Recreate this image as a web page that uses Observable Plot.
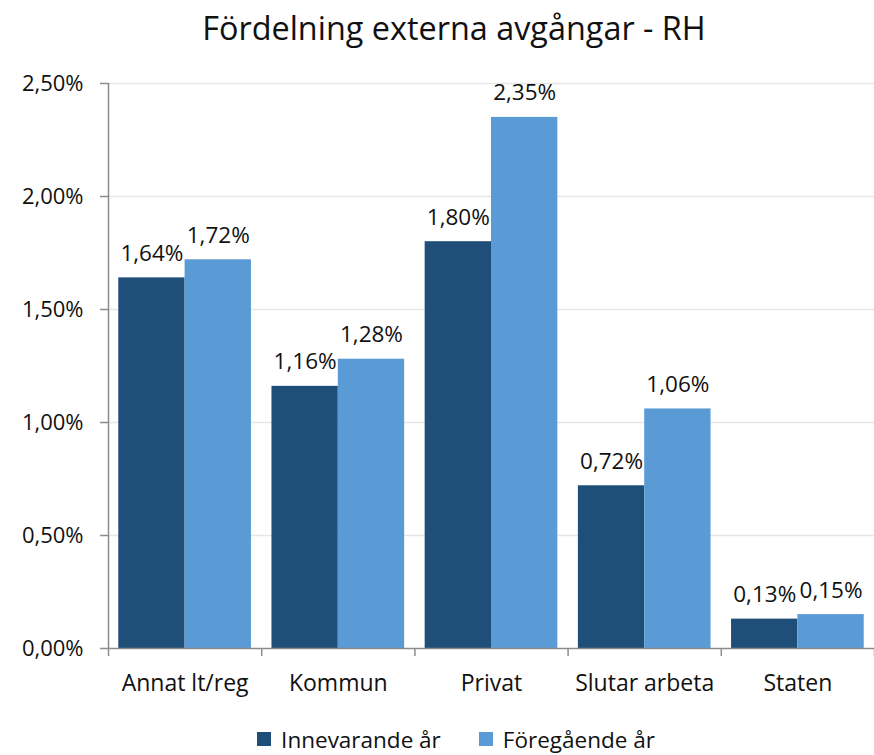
<!DOCTYPE html>
<html>
<head>
<meta charset="utf-8">
<script src="https://cdn.jsdelivr.net/npm/d3@7"></script>
<script src="https://cdn.jsdelivr.net/npm/@observablehq/plot@0.6"></script>
<style>
  html, body { margin: 0; padding: 0; background: #fff; }
  body { width: 874px; height: 755px; overflow: hidden; font-family: "Open Sans", Lato, sans-serif; color: #111; }
  #title { height: 62px; text-align: center; font-size: 32.4px; line-height: 54px; padding-left: 34px; }
  #legend { display: flex; justify-content: center; align-items: center; gap: 38px; font-size: 22.5px; height: 48px; padding-left: 38px; }
  .item { display: flex; align-items: center; gap: 10px; }
  .sw { width: 14px; height: 14px; display: inline-block; }
</style>
</head>
<body>
<div id="title">Fördelning externa avgångar - RH</div>
<div id="chart"></div>
<div id="legend"></div>
<script>
const categories = ["Annat lt/reg", "Kommun", "Privat", "Slutar arbeta", "Staten"];
const seriesNames = ["Innevarande år", "Föregående år"];
const innevarande = [1.64, 1.16, 1.80, 0.72, 0.13];
const foregaende = [1.72, 1.28, 2.35, 1.06, 0.15];
const yTicks = [0, 0.5, 1.0, 1.5, 2.0, 2.5];
const colors = ["#1F4E79", "#5B9BD5"];

const pad = 0.067, bw = 0.433;
const rows = [];
[innevarande, foregaende].forEach((vals, j) => {
  vals.forEach((v, i) => {
    rows.push({cat: categories[i], series: seriesNames[j], value: v,
               x1: i + pad + j * bw, x2: i + pad + (j + 1) * bw, xm: i + pad + (j + 0.5) * bw});
  });
});
const fmt = d => d.toFixed(2).replace(".", ",") + "%";

const chart = Plot.plot({
  width: 874,
  height: 653,
  marginLeft: 108,
  marginRight: 0,
  marginTop: 21,
  marginBottom: 67,
  style: {fontFamily: "'Open Sans', Lato, sans-serif", fontSize: "22px", color: "#111", background: "#fff"},
  x: {domain: [0, categories.length], axis: null},
  y: {domain: [0, 2.5], axis: null},
  color: {domain: seriesNames, range: colors},
  marks: [
    Plot.ruleY(yTicks.filter(d => d > 0), {stroke: "#e6e6e6", strokeWidth: 1.5}),
    Plot.axisY({ticks: yTicks, tickFormat: fmt, tickSize: 8, tickPadding: 17, label: null, stroke: "#8c8c8c", strokeWidth: 1.5, fontSize: 22, fill: "#111"}),
    Plot.rectY(rows, {x1: "x1", x2: "x2", y: "value", fill: "series"}),
    Plot.text(rows, {x: "xm", y: "value", text: d => fmt(d.value), dy: -17, lineAnchor: "bottom", fontSize: 22.5, fill: "#111"}),
    Plot.ruleX([0], {stroke: "#8c8c8c", strokeWidth: 1.5}),
    Plot.ruleY([0], {stroke: "#8c8c8c", strokeWidth: 1.5}),
    Plot.axisX({ticks: d3.range(categories.length + 1), tickFormat: () => "", tickSize: 8, label: null, stroke: "#8c8c8c", strokeWidth: 1.5}),
    Plot.axisX({ticks: categories.map((c, i) => i + 0.5), tickFormat: d => categories[Math.floor(d)], tickSize: 0, tickPadding: 26, label: null, fontSize: 23, fill: "#111"})
  ]
});
document.getElementById("chart").appendChild(chart);

const legend = document.getElementById("legend");
seriesNames.forEach((s, j) => {
  const item = document.createElement("div");
  item.className = "item";
  const sw = document.createElement("span");
  sw.className = "sw";
  sw.style.background = colors[j];
  const t = document.createElement("span");
  t.textContent = s;
  item.appendChild(sw); item.appendChild(t);
  legend.appendChild(item);
});
</script>
</body>
</html>
